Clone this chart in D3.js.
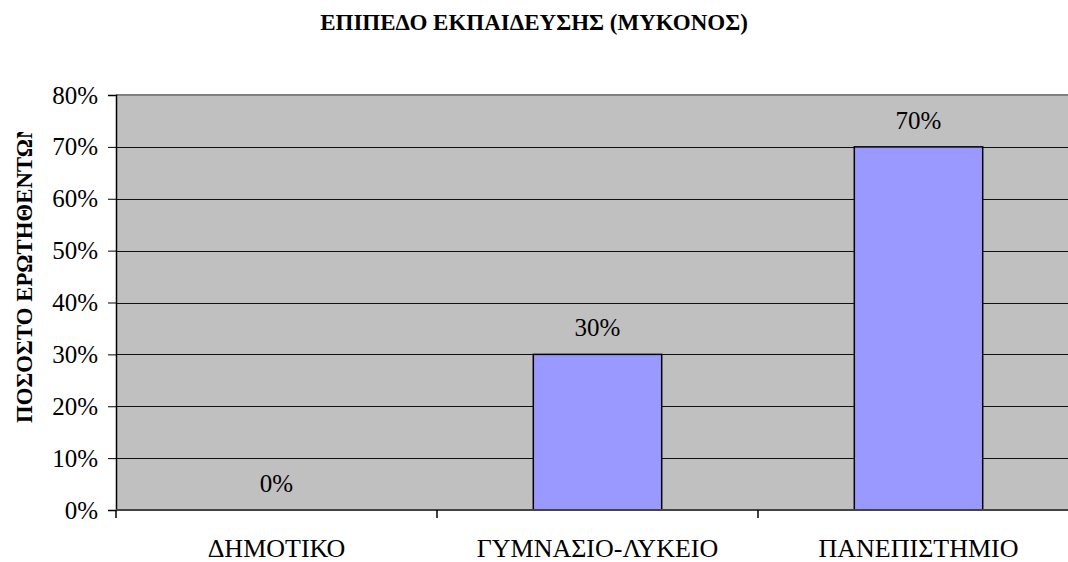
<!DOCTYPE html>
<html>
<head>
<meta charset="utf-8">
<script src="https://cdn.jsdelivr.net/npm/d3@7"></script>
<style>
  body { margin: 0; background: #fff; }
</style>
</head>
<body>
<svg id="chart" width="1068" height="562"></svg>
<script>
const categories = ['ΔΗΜΟΤΙΚΟ', 'ΓΥΜΝΑΣΙΟ-ΛΥΚΕΙΟ', 'ΠΑΝΕΠΙΣΤΗΜΙΟ'];
const values = [0, 0.30, 0.70];
const yTicks = [0, 0.1, 0.2, 0.3, 0.4, 0.5, 0.6, 0.7, 0.8];
const chartTitle = 'ΕΠΙΠΕΔΟ ΕΚΠΑΙΔΕΥΣΗΣ (ΜΥΚΟΝΟΣ)';
const yTitle = 'ΠΟΣΟΣΤΟ ΕΡΩΤΗΘΕΝΤΩΝ';

const serif = '"Liberation Serif", "Times New Roman", "DejaVu Serif", serif';

const svg = d3.select('#chart');
const plot = { left: 116, top: 95, right: 1079, bottom: 510 };

const x = d3.scaleBand()
    .domain(categories)
    .range([plot.left, plot.right])
    .paddingInner(0.6)
    .paddingOuter(0.3);

// band step used for category ticks
const step = (plot.right - plot.left) / categories.length;

const y = d3.scaleLinear()
    .domain([0, 0.8])
    .range([plot.bottom, plot.top]);

// plot background
svg.append('rect')
    .attr('x', plot.left)
    .attr('y', plot.top)
    .attr('width', plot.right - plot.left)
    .attr('height', plot.bottom - plot.top)
    .attr('fill', '#c0c0c0');

// gridlines
svg.selectAll('line.grid')
    .data(yTicks.filter(d => d > 0 && d < 0.8))
    .join('line')
    .attr('class', 'grid')
    .attr('x1', plot.left)
    .attr('x2', plot.right)
    .attr('y1', d => Math.round(y(d)) + 0.5)
    .attr('y2', d => Math.round(y(d)) + 0.5)
    .attr('stroke', '#111')
    .attr('stroke-width', 1);

// top border
svg.append('line')
    .attr('x1', plot.left).attr('x2', plot.right)
    .attr('y1', plot.top).attr('y2', plot.top)
    .attr('stroke', '#808080')
    .attr('stroke-width', 2);

// bars
svg.selectAll('rect.bar')
    .data(values.map((v, i) => ({ cat: categories[i], v })))
    .join('rect')
    .attr('class', 'bar')
    .attr('x', d => x(d.cat))
    .attr('y', d => y(d.v))
    .attr('width', x.bandwidth())
    .attr('height', d => y(0) - y(d.v))
    .attr('fill', '#9999ff')
    .attr('stroke', d => d.v > 0 ? '#000' : 'none')
    .attr('stroke-width', 1.5);

// value labels
svg.selectAll('text.val')
    .data(values.map((v, i) => ({ cat: categories[i], v })))
    .join('text')
    .attr('class', 'val')
    .attr('x', d => x(d.cat) + x.bandwidth() / 2)
    .attr('y', d => y(d.v) - 18)
    .attr('text-anchor', 'middle')
    .style('font-family', serif)
    .style('font-size', '25px')
    .attr('fill', '#000')
    .text(d => d3.format('.0%')(d.v));

// y axis
const yAxis = svg.append('g')
    .attr('transform', `translate(${plot.left},0)`)
    .call(d3.axisLeft(y).tickValues(yTicks).tickFormat(d3.format('.0%')).tickSize(8).tickPadding(10));
yAxis.select('.domain').attr('stroke', '#000').attr('stroke-width', 1.5);
yAxis.selectAll('.tick line').attr('stroke', '#000');
yAxis.selectAll('.tick text')
    .style('font-family', serif)
    .style('font-size', '25px')
    .attr('fill', '#000');

// x axis line
svg.append('line')
    .attr('x1', plot.left).attr('x2', plot.right)
    .attr('y1', plot.bottom).attr('y2', plot.bottom)
    .attr('stroke', '#444')
    .attr('stroke-width', 2);

// category tick marks at band boundaries
svg.selectAll('line.ctick')
    .data(d3.range(categories.length + 1))
    .join('line')
    .attr('class', 'ctick')
    .attr('x1', i => plot.left + i * step)
    .attr('x2', i => plot.left + i * step)
    .attr('y1', plot.bottom)
    .attr('y2', plot.bottom + 8)
    .attr('stroke', '#000')
    .attr('stroke-width', 1.5);

// category labels
svg.selectAll('text.cat')
    .data(categories)
    .join('text')
    .attr('class', 'cat')
    .attr('x', d => x(d) + x.bandwidth() / 2)
    .attr('y', 557)
    .attr('text-anchor', 'middle')
    .style('font-family', serif)
    .style('font-size', '26px')
    .attr('fill', '#000')
    .text(d => d);

// title
svg.append('text')
    .attr('x', 534)
    .attr('y', 30)
    .attr('text-anchor', 'middle')
    .style('font-family', serif)
    .style('font-size', '23px')
    .style('font-weight', 'bold')
    .attr('fill', '#000')
    .text(chartTitle);

// y axis title, clipped at the top like the original
svg.append('clipPath')
    .attr('id', 'yclip')
    .append('rect')
    .attr('x', 0).attr('y', 132).attr('width', 60).attr('height', 400);

svg.append('g')
    .attr('clip-path', 'url(#yclip)')
    .append('text')
    .attr('transform', 'translate(32,423) rotate(-90)')
    .attr('text-anchor', 'start')
    .style('font-family', serif)
    .style('font-size', '22.8px')
    .style('font-weight', 'bold')
    .attr('fill', '#000')
    .text(yTitle);
</script>
</body>
</html>
